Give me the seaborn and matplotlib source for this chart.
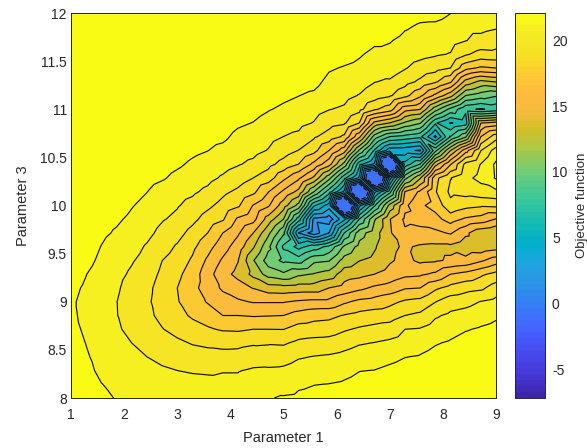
import matplotlib
matplotlib.use('Agg')
import matplotlib.pyplot as plt
from matplotlib.cm import ScalarMappable
from matplotlib.colors import ListedColormap, Normalize
from matplotlib.tri import Triangulation
import numpy as np
import seaborn as sns

# objective function on the 29 x 29 grid, one list per parameter 1 value,
# from parameter 3 = 8 (first) up to parameter 3 = 12 (last)
col00 = [21.7,21.7,21.6,21.5,21.4,21.2,21.05,21.0,21.1,21.3,21.5,21.7,21.8,21.9,22.0,22.05,22.1,22.1,22.1,22.1,22.1,22.1,22.1,22.1,22.1,22.1,22.1,22.1,22.1]
col01 = [21.3,21.2,21.1,21.0,20.85,20.7,20.65,20.65,20.75,20.9,21.2,21.4,21.6,21.8,21.9,22.0,22.05,22.1,22.1,22.1,22.1,22.1,22.1,22.1,22.1,22.1,22.1,22.1,22.1]
col02 = [21.0,20.9,20.7,20.5,20.35,20.25,20.15,20.15,20.25,20.4,20.65,20.85,21.1,21.3,21.6,21.8,21.9,22.0,22.05,22.1,22.1,22.1,22.1,22.1,22.1,22.1,22.1,22.1,22.1]
col03 = [20.85,20.7,20.4,20.15,19.95,19.8,19.7,19.68,19.8,19.95,20.15,20.4,20.75,21.05,21.4,21.6,21.8,21.9,22.0,22.05,22.1,22.1,22.1,22.1,22.1,22.1,22.1,22.1,22.1]
col04 = [20.7,20.55,20.25,20.0,19.66,19.4,19.2,19.15,19.25,19.5,19.75,20.05,20.35,20.65,20.95,21.3,21.6,21.75,21.9,22.0,22.05,22.1,22.1,22.1,22.1,22.1,22.1,22.1,22.1]
col05 = [20.6,20.4,20.0,19.66,19.3,19.0,18.75,18.65,18.75,19.0,19.3,19.55,19.95,20.25,20.55,20.9,21.3,21.55,21.75,21.9,22.0,22.05,22.1,22.1,22.1,22.1,22.1,22.1,22.1]
col06 = [20.55,20.25,19.8,19.4,19.0,18.5,18.1,17.9,17.95,18.2,18.45,18.95,19.35,19.75,20.1,20.4,21.0,21.35,21.6,21.8,21.9,22.0,22.05,22.1,22.1,22.1,22.1,22.1,22.1]
col07 = [20.5,20.1,19.66,19.2,18.7,18.0,17.6,17.3,17.22,17.5,17.9,18.3,18.85,19.4,19.75,20.1,20.6,21.05,21.4,21.65,21.85,21.95,22.0,22.05,22.1,22.1,22.1,22.1,22.1]
col08 = [20.45,20.05,19.55,19.05,18.35,17.7,17.05,16.65,16.4,16.65,17.05,17.5,18.05,18.75,19.3,19.85,20.3,20.7,21.1,21.4,21.7,21.85,21.95,22.0,22.05,22.1,22.1,22.1,22.1]
col09 = [20.4,20.0,19.5,18.9,18.2,17.35,16.7,15.9,15.4,15.3,15.8,16.45,17.22,17.95,18.7,19.4,20.0,20.45,20.9,21.25,21.55,21.75,21.9,22.0,22.05,22.1,22.1,22.1,22.1]
col10 = [20.35,19.95,19.6,18.85,18.1,17.1,16.0,15.3,14.6,14.0,14.6,15.3,16.0,17.35,18.05,18.7,19.5,20.1,20.6,21.1,21.45,21.7,21.85,21.95,22.05,22.1,22.1,22.1,22.1]
col11 = [20.3,19.95,19.6,18.85,18.15,17.05,16.0,14.95,14.1,13.2,13.6,14.2,14.95,15.8,17.4,18.2,19.0,19.75,20.2,20.6,21.05,21.45,21.7,21.85,22.0,22.05,22.1,22.1,22.1]
col12 = [20.8,20.3,19.8,19.1,18.3,17.22,15.9,14.7,13.5,12.0,11.2,12.5,13.56,15.2,15.95,17.5,18.44,19.4,20.0,20.4,20.85,21.25,21.6,21.8,21.95,22.05,22.1,22.1,22.1]
col13 = [20.8,20.35,19.85,19.0,18.35,17.22,15.95,14.7,12.9,10.6,9.3,10.2,11.4,13.0,14.95,16.05,17.8,18.8,19.6,20.0,20.5,20.95,21.35,21.65,21.85,22.0,22.05,22.1,22.1]
col14 = [21.0,20.3,19.9,19.15,18.3,17.2,16.0,14.7,12.8,10.1,8.4,7.2,8.9,11.1,12.9,14.55,16.3,18.0,19.0,19.65,20.15,20.7,21.1,21.5,21.75,21.95,22.05,22.1,22.1]
col15 = [21.1,20.7,20.2,19.55,18.7,17.7,16.5,14.95,12.9,10.9,8.1,5.8,2.5,6.8,10.7,13.2,15.0,17.2,18.4,19.4,20.0,20.5,20.9,21.3,21.65,21.85,22.0,22.05,22.1]
col16 = [21.2,20.85,20.3,19.7,18.85,17.8,16.8,15.1,12.9,11.2,9.6,6.8,0.6,1.0,5.2,9.9,13.3,15.7,17.6,18.6,19.6,20.1,20.7,21.2,21.6,21.8,21.95,22.05,22.1]
col17 = [21.3,20.9,20.4,19.8,18.9,17.9,16.9,15.1,13.56,11.6,9.8,7.8,2.6,0.6,3.2,6.8,10.3,14.0,16.0,17.9,18.9,19.7,20.2,20.6,21.0,21.5,21.75,21.95,22.05]
col18 = [21.4,21.0,20.6,20.0,19.2,18.3,17.3,15.8,14.0,13.0,11.6,10.1,7.46,3.5,-7.0,3.5,6.6,10.7,14.1,17.0,18.6,19.5,20.0,20.4,20.8,21.3,21.6,21.85,22.0]
col19 = [21.5,21.2,20.85,20.3,19.55,18.6,17.6,16.3,14.5,13.2,12.3,11.5,10.6,7.5,3.5,-7.2,3.5,5.4,9.7,13.8,17.2,18.8,19.6,20.2,20.6,21.0,21.5,21.8,22.0]
col20 = [21.6,21.3,20.9,20.4,19.7,18.8,17.8,16.5,15.0,13.56,12.6,12.2,11.8,11.0,7.3,3.5,-7.2,3.5,6.0,9.3,13.2,17.4,19.0,19.7,20.2,20.6,21.1,21.6,21.85]
col21 = [21.7,21.5,21.1,20.6,19.9,19.0,17.9,16.9,15.3,14.0,13.4,13.3,13.4,13.5,11.5,7.0,3.2,-7.0,3.0,7.4,12.3,16.6,18.6,19.5,20.3,20.6,20.95,21.45,21.75]
col22 = [21.8,21.6,21.3,20.85,20.2,19.66,18.44,17.4,15.9,14.5,13.9,13.7,14.6,15.0,14.5,13.6,9.5,5.5,2.9,7.0,10.9,14.0,17.6,18.9,19.75,20.3,20.6,21.0,21.4]
col23 = [21.9,21.7,21.4,20.95,20.5,19.75,18.7,17.6,16.0,14.6,13.3,13.4,14.4,15.2,15.8,15.0,12.2,7.5,2.4,6.5,10.0,13.6,16.3,18.2,19.2,20.0,20.4,20.75,21.2]
col24 = [22.0,21.8,21.6,21.2,20.8,20.2,19.5,18.4,17.0,15.0,13.4,13.3,14.5,15.6,16.4,17.1,16.85,13.1,8.3,3.5,6.4,10.4,14.5,17.4,18.9,19.8,20.2,20.7,21.2]
col25 = [22.05,21.9,21.7,21.4,21.0,20.5,19.9,19.1,17.6,16.0,13.7,13.3,14.9,16.5,18.1,18.7,18.4,15.9,12.3,7.5,4.9,8.3,12.8,16.2,18.44,19.6,20.1,20.5,20.9]
col26 = [22.1,22.0,21.8,21.6,21.3,20.8,20.1,19.3,18.0,16.4,13.9,12.8,13.8,15.8,17.6,18.9,19.4,18.8,15.5,9.7,5.6,6.5,9.9,13.1,16.4,18.6,19.7,20.0,20.5]
col27 = [22.1,22.05,21.9,21.7,21.45,21.0,20.4,19.7,18.2,17.0,14.6,12.7,12.7,15.5,17.4,19.2,19.95,19.7,18.4,16.0,13.5,6.1,9.3,12.0,15.8,18.0,19.3,20.0,20.3]
col28 = [22.1,22.1,22.0,21.85,21.6,21.2,20.7,20.0,19.0,17.6,15.4,13.0,12.34,14.7,17.5,19.4,21.0,21.1,20.2,17.9,14.0,6.6,8.8,12.4,16.0,18.1,19.0,19.8,20.5]

param1 = np.linspace(1, 9, 29)
param3 = np.linspace(8, 12, 29)
objective = np.array([col00, col01, col02, col03, col04, col05, col06, col07, col08, col09,
                      col10, col11, col12, col13, col14, col15, col16, col17, col18, col19,
                      col20, col21, col22, col23, col24, col25, col26, col27, col28]).T

levels = [-7.3, -1.1, 0.12, 1.35, 2.57, 3.79, 5.01, 6.23, 7.45, 8.67, 9.89, 11.11, 12.33,
          13.55, 14.78, 16.0, 17.22, 18.44, 19.66, 20.88, 22.2]
x_ticks = [1, 2, 3, 4, 5, 6, 7, 8, 9]
y_ticks = [8, 8.5, 9, 9.5, 10, 10.5, 11, 11.5, 12]
y_labels = ['8', '8.5', '9', '9.5', '10', '10.5', '11', '11.5', '12']
cbar_ticks = [-5, 0, 5, 10, 15, 20]
cbar_labels = ['-5', '0', '5', '10', '15', '20']

parula_anchors = ['#3e26a8', '#4536d5', '#4748eb', '#4559fa', '#3e6ffe', '#3283f2', '#2b95e6',
                  '#1ea5e0', '#01b0ca', '#11bab5', '#31c59f', '#4fca8e', '#7dcc6f', '#abc846',
                  '#d2bf27', '#f8ba3d', '#fdbb3d', '#fccb30', '#f6e122', '#f5ea26', '#f9fb15']

sns.set_theme(style='white')
plt.rcParams['font.family'] = ['Liberation Sans', 'DejaVu Sans']
parula = ListedColormap(sns.blend_palette(parula_anchors, n_colors=64))
norm = Normalize(vmin=-7.2, vmax=22.1)

W, H = 587, 448
fig = plt.figure(figsize=(W / 100, H / 100), dpi=100)
ax = fig.add_axes([71 / W, 1 - 398 / H, (496 - 71) / W, (398 - 13) / H])
cax = fig.add_axes([515 / W, 1 - 398 / H, 30 / W, (398 - 13) / H])

# split every grid cell along the same diagonal, the low points along the
# valley then stay separate blocks instead of merging into one trough
n = len(param1)
triangles = []
for j in range(n - 1):
    for i in range(n - 1):
        a = j * n + i
        triangles.append([a, a + 1, a + n])
        triangles.append([a + 1, a + n + 1, a + n])
xx, yy = np.meshgrid(param1, param3)
grid = Triangulation(xx.ravel(), yy.ravel(), triangles)

# each band takes the colour of its upper level
band_colors = [parula(norm(v)) for v in levels[1:]]
ax.tricontourf(grid, objective.ravel(), levels=levels, colors=band_colors)
ax.tricontour(grid, objective.ravel(), levels=levels[1:-1], colors='#111111', linewidths=0.85)

ink = '#262626'
ax.set_xlim(1, 9)
ax.set_ylim(8, 12)
ax.set_xticks(x_ticks)
ax.set_yticks(y_ticks)
ax.set_yticklabels(y_labels)
ax.set_xlabel('Parameter 1', fontsize=10.5, color=ink, labelpad=7)
ax.set_ylabel('Parameter 3', fontsize=10.5, color=ink, labelpad=7)
ax.tick_params(direction='in', length=3, width=0.6, top=True, right=True, labelsize=10,
               colors=ink, pad=3)
ax.tick_params(axis='x', pad=7)
for s in ax.spines.values():
    s.set_linewidth(0.7)
    s.set_color(ink)

cbar = fig.colorbar(ScalarMappable(norm=norm, cmap=parula), cax=cax)
cbar.set_ticks(cbar_ticks)
cbar.set_ticklabels(cbar_labels)
cbar.set_label('Objective function', fontsize=9.5, color=ink, labelpad=6)
cax.tick_params(direction='in', length=3, width=0.6, labelsize=10, colors=ink, pad=5)
cbar.outline.set_linewidth(0.7)
cbar.outline.set_edgecolor(ink)

fig.savefig('out.png', dpi=100)
